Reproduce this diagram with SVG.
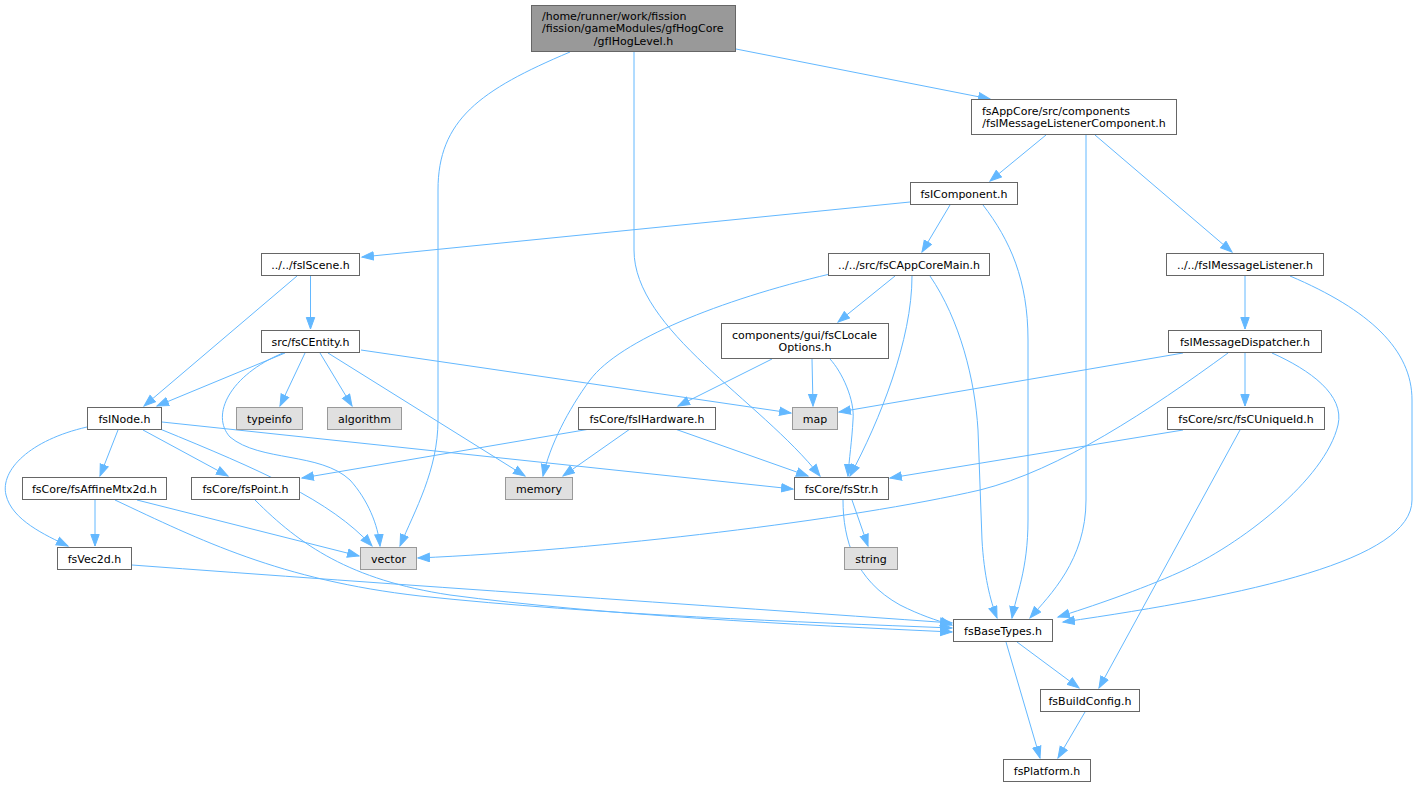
<svg xmlns="http://www.w3.org/2000/svg" width="1418" height="788" viewBox="0 0 1418 788">
<style>
.n rect{fill:#ffffff;stroke:#666666;stroke-width:1}
.root rect{fill:#999999;stroke:#666666;stroke-width:1}
.x rect{fill:#e0e0e0;stroke:#999999;stroke-width:1}
text{font-family:"DejaVu Sans","Liberation Sans",sans-serif;font-size:11px;fill:#000000;text-anchor:middle}
text.l{text-anchor:start}
#edges path{fill:none;stroke:#63b8ff;stroke-width:1;marker-end:url(#a)}
</style>
<defs>
<marker id="a" markerUnits="userSpaceOnUse" markerWidth="14" markerHeight="12" refX="12" refY="5" orient="auto">
<path d="M0.5,0.8 L12,5 L0.5,9.2 z" fill="#63b8ff" stroke="#63b8ff" stroke-width="1"/>
</marker>
</defs>
<rect width="1418" height="788" fill="#ffffff"/>
<g id="edges">
<path d="M736,49 L990,99"/>
<path d="M634,52 L634,250 C634,330 760,400 820,476"/>
<path d="M570,52 C480,90 438,120 438,190 L438,420 C438,470 415,510 400,546"/>
<path d="M1046,135 L990,181"/>
<path d="M1095,135 L1232,252"/>
<path d="M1086,135 L1086,500 C1086,560 1050,595 1030,618"/>
<path d="M910,202 L362,257"/>
<path d="M950,205 L922,252"/>
<path d="M983,205 C1010,240 1028,280 1028,340 L1028,520 C1028,570 1016,595 1012,618"/>
<path d="M310.5,276 L310.5,329"/>
<path d="M297,276 L144,406"/>
<path d="M895,276 L838,322"/>
<path d="M830,274 C720,300 620,340 590,380 C568,410 550,445 543,476"/>
<path d="M912,276 C912,340 880,420 850,476"/>
<path d="M930,276 C960,320 975,380 978,430 L982,540 C984,575 990,600 997,618"/>
<path d="M1245,276 L1245,329"/>
<path d="M1290,276 C1370,310 1412,350 1412,400 L1412,500 C1412,560 1250,595 1063,622"/>
<path d="M285,353 L157,406"/>
<path d="M305,353 L280,406"/>
<path d="M320,353 L352,406"/>
<path d="M328,353 L525,476"/>
<path d="M361,350 L791,413"/>
<path d="M283,353 C230,375 210,415 230,437 C260,462 320,452 350,480 C368,500 378,525 380,546"/>
<path d="M812,359 L813,406"/>
<path d="M772,359 L678,406"/>
<path d="M830,359 C842,372 855,400 853,420 C852,440 849,460 848,476"/>
<path d="M1183,353 L839,412"/>
<path d="M1228,353 C1150,410 1060,470 980,490 C850,520 600,550 418,558"/>
<path d="M1245,353 L1245,406"/>
<path d="M1272,353 C1310,370 1345,395 1338,425 C1325,480 1240,545 1180,572 C1140,590 1090,607 1058,617"/>
<path d="M118,430 L100,476"/>
<path d="M143,430 L228,476"/>
<path d="M160,429 C260,470 330,500 372,546"/>
<path d="M162,422 L793,489"/>
<path d="M87,427 C30,440 0,470 6,495 C12,520 45,535 68,546"/>
<path d="M590,429 L302,478"/>
<path d="M630,429 L563,476"/>
<path d="M675,429 L808,476"/>
<path d="M1183,430 L890,478"/>
<path d="M1240,430 L1099,688"/>
<path d="M95,500 L95,546"/>
<path d="M137,500 L359,556"/>
<path d="M115,500 C200,540 280,580 420,596 C600,615 800,622 952,628"/>
<path d="M255,500 C300,545 350,580 450,595 C600,615 800,625 952,632"/>
<path d="M132,565 C400,585 700,605 952,623"/>
<path d="M852,500 L868,546"/>
<path d="M843,500 C843,540 855,580 900,605 C920,615 935,620 952,625"/>
<path d="M1017,642 L1079,688"/>
<path d="M1006,642 L1040,758"/>
<path d="M1085,712 L1058,758"/>
</g>
<g id="n_root" class="root"><rect x="531.5" y="5.5" width="204" height="46"/><text class="l" x="542" y="19.5">/home/runner/work/fission</text><text class="l" x="542" y="32">/fission/gameModules/gfHogCore</text><text x="633.5" y="44.5">/gfIHogLevel.h</text></g>
<g id="n_listenercomp" class="n"><rect x="971.5" y="99.5" width="205" height="35"/><text class="l" x="982" y="114.5">fsAppCore/src/components</text><text x="1074" y="127">/fsIMessageListenerComponent.h</text></g>
<g id="n_icomponent" class="n"><rect x="910.5" y="182.5" width="107" height="22"/><text x="964" y="197.5">fsIComponent.h</text></g>
<g id="n_iscene" class="n"><rect x="261.5" y="253.5" width="98" height="22"/><text x="310.5" y="268.5">../../fsIScene.h</text></g>
<g id="n_appcoremain" class="n"><rect x="828.5" y="253.5" width="161" height="22"/><text x="909" y="268.5">../../src/fsCAppCoreMain.h</text></g>
<g id="n_listener" class="n"><rect x="1166.5" y="253.5" width="157" height="22"/><text x="1245" y="268.5">../../fsIMessageListener.h</text></g>
<g id="n_entity" class="n"><rect x="261.5" y="330.5" width="98" height="22"/><text x="310.5" y="345.5">src/fsCEntity.h</text></g>
<g id="n_locale" class="n"><rect x="721.5" y="323.5" width="167" height="35"/><text class="l" x="732" y="338.5">components/gui/fsCLocale</text><text x="805" y="351">Options.h</text></g>
<g id="n_dispatcher" class="n"><rect x="1168.5" y="330.5" width="153" height="22"/><text x="1245" y="345.5">fsIMessageDispatcher.h</text></g>
<g id="n_inode" class="n"><rect x="87.5" y="407.5" width="74" height="22"/><text x="124.5" y="422.5">fsINode.h</text></g>
<g id="n_typeinfo" class="x"><rect x="236.5" y="407.5" width="66" height="22"/><text x="269.5" y="422.5">typeinfo</text></g>
<g id="n_algorithm" class="x"><rect x="327.5" y="407.5" width="74" height="22"/><text x="364.5" y="422.5">algorithm</text></g>
<g id="n_map" class="x"><rect x="792.5" y="407.5" width="45" height="22"/><text x="815" y="422.5">map</text></g>
<g id="n_hardware" class="n"><rect x="578.5" y="407.5" width="137" height="22"/><text x="647" y="422.5">fsCore/fsIHardware.h</text></g>
<g id="n_uniqueid" class="n"><rect x="1167.5" y="407.5" width="157" height="22"/><text x="1246" y="422.5">fsCore/src/fsCUniqueId.h</text></g>
<g id="n_affine" class="n"><rect x="22.5" y="477.5" width="144" height="22"/><text x="94.5" y="492.5">fsCore/fsAffineMtx2d.h</text></g>
<g id="n_point" class="n"><rect x="191.5" y="477.5" width="108" height="22"/><text x="245.5" y="492.5">fsCore/fsPoint.h</text></g>
<g id="n_memory" class="x"><rect x="505.5" y="477.5" width="67" height="22"/><text x="539" y="492.5">memory</text></g>
<g id="n_str" class="n"><rect x="794.5" y="477.5" width="94" height="22"/><text x="841.5" y="492.5">fsCore/fsStr.h</text></g>
<g id="n_vec2d" class="n"><rect x="57.5" y="547.5" width="74" height="22"/><text x="94.5" y="562.5">fsVec2d.h</text></g>
<g id="n_vector" class="x"><rect x="360.5" y="547.5" width="56" height="22"/><text x="388.5" y="562.5">vector</text></g>
<g id="n_string" class="x"><rect x="844.5" y="547.5" width="53" height="22"/><text x="871" y="562.5">string</text></g>
<g id="n_basetypes" class="n"><rect x="953.5" y="619.5" width="99" height="22"/><text x="1003" y="634.5">fsBaseTypes.h</text></g>
<g id="n_buildconfig" class="n"><rect x="1040.5" y="689.5" width="99" height="22"/><text x="1090" y="704.5">fsBuildConfig.h</text></g>
<g id="n_platform" class="n"><rect x="1003.5" y="759.5" width="87" height="22"/><text x="1047" y="774.5">fsPlatform.h</text></g>
</svg>
